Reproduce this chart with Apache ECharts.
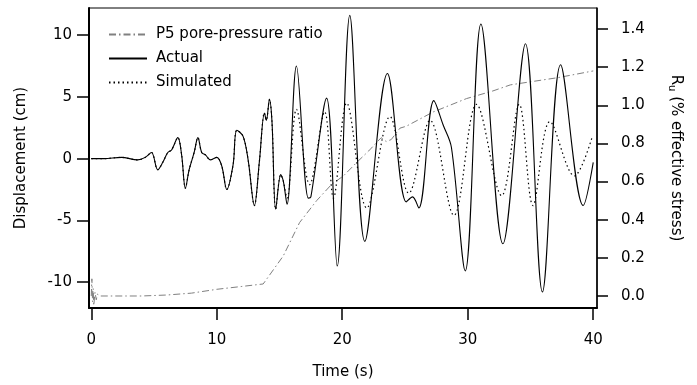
<!DOCTYPE html>
<html><head><meta charset="utf-8">
<script src="https://cdn.jsdelivr.net/npm/echarts@6/dist/echarts.min.js"></script>
<style>html,body{margin:0;padding:0;background:#fff}#c{width:697px;height:385px}</style>
</head><body><div id="c"></div>
<script>
// ---- data ----
const actualT = [0,1,2.4,3.7,4.3,4.8,5.3,5.7,6.1,6.4,6.9,7.2,7.5,7.8,8.2,8.5,8.8,9.1,9.5,10.0,10.4,10.8,11.3,11.6,12.1,12.5,13.0,13.4,13.8,13.95,14.2,14.4,14.7,15.1,15.3,15.6,16.35,17.3,17.5,18.75,19.6,20.6,21.8,23.6,25.1,25.6,26.1,27.3,28.05,28.7,29.8,31.05,32.8,34.6,35.95,37.4,39.2,40.0];
const actualD = [0,0,0.1,-0.1,0.1,0.5,-0.9,-0.3,0.5,0.7,1.7,0.3,-2.4,-0.9,0.5,1.7,0.5,0.3,-0.1,0.1,-0.6,-2.5,-0.5,2.3,1.8,-0.1,-3.8,-0.2,3.7,3.1,4.8,3.0,-4.1,-1.3,-1.8,-3.7,7.5,-3.2,-3.1,4.9,-8.7,11.6,-6.7,6.9,-3.5,-3.1,-4.0,4.7,2.7,0.9,-9.1,10.9,-6.9,9.3,-10.8,7.6,-3.8,-0.3];
const simT = [0,1,2.4,3.7,4.3,4.8,5.3,5.7,6.1,6.4,6.9,7.2,7.5,7.8,8.2,8.5,8.8,9.1,9.5,10.0,10.4,10.8,11.3,11.6,12.1,12.5,13.0,13.4,13.8,13.95,14.2,14.4,14.7,15.1,15.3,15.6,16.35,17.4,18.6,19.3,20.35,21.95,23.8,25.3,27.0,28.9,30.7,32.7,34.1,35.2,36.55,38.5,39.9];
const simD = [0,0,0.1,-0.1,0.1,0.5,-0.9,-0.3,0.5,0.7,1.7,0.3,-2.4,-0.9,0.5,1.7,0.5,0.3,-0.1,0.1,-0.6,-2.5,-0.5,2.3,1.8,-0.1,-3.8,-0.2,3.7,3.1,4.8,3.0,-4.1,-1.3,-1.8,-3.2,4.0,-2.1,3.8,-3.2,4.5,-4.0,3.4,-2.8,3.1,-4.6,4.4,-3.0,4.4,-3.8,3.0,-1.4,1.7];
const ruT = [0,0.05,0.1,0.15,0.2,0.3,0.4,0.5,0.7,1.5,4,6,8,10,12,13.7,15.3,16.6,17.96,19.15,20.1,21.15,22.1,23.1,23.5,23.9,24.6,25.1,27.25,29.9,32.0,33.4,34.2,37.2,40.0];
const ruR = [0.0,0.09,-0.03,0.04,-0.05,0.02,-0.02,0.01,0.0,0.0,0.0,0.005,0.015,0.035,0.05,0.063,0.21,0.385,0.50,0.585,0.63,0.70,0.76,0.83,0.81,0.82,0.88,0.89,0.965,1.035,1.075,1.107,1.115,1.145,1.18];
const xTicks = [0,10,20,30,40];
const dispTicks = [-10,-5,0,5,10];
const ruTicks = [0,0.2,0.4,0.6,0.8,1.0,1.2,1.4];
const seriesNames = ['P5 pore-pressure ratio','Actual','Simulated'];

const pair = (a,b) => a.map((v,i)=>[v,b[i]]);
const FONT = 'DejaVu Sans';
const chart = echarts.init(document.getElementById('c'));
chart.setOption({
  animation:false,
  backgroundColor:'#fff',
  grid:{left:89,right:100,top:8,bottom:76,show:true,borderColor:'#000',borderWidth:1,backgroundColor:'transparent'},
  legend:{
    orient:'vertical',left:103,top:22,itemWidth:38,itemHeight:14,itemGap:9,
    itemStyle:{opacity:0},
    textStyle:{fontFamily:FONT,fontSize:15,color:'#000',padding:[0,0,0,4]},
    data:seriesNames
  },
  xAxis:{
    type:'value',min:-0.18,max:40.3,
    name:'Time (s)',nameLocation:'middle',nameGap:57,
    nameTextStyle:{fontFamily:FONT,fontSize:15,color:'#000'},
    axisLine:{onZero:false,lineStyle:{color:'#000',width:2}},
    axisTick:{show:true,length:12,customValues:xTicks,lineStyle:{width:1.5,color:'#000'}},
    axisLabel:{customValues:xTicks,margin:25,fontFamily:FONT,fontSize:15,color:'#000'},
    splitLine:{show:false}
  },
  yAxis:[{
    type:'value',min:-12.1,max:12.2,position:'left',
    name:'Displacement (cm)',nameLocation:'middle',nameGap:60,
    nameTextStyle:{fontFamily:FONT,fontSize:15,color:'#000'},
    axisLine:{show:true,onZero:false,lineStyle:{color:'#000',width:2}},
    axisTick:{show:true,length:12,customValues:dispTicks,lineStyle:{width:1.5,color:'#000'}},
    axisLabel:{customValues:dispTicks,margin:17,fontFamily:FONT,fontSize:15,color:'#000'},
    splitLine:{show:false}
  },{
    type:'value',min:-0.063,max:1.51,position:'right',
    name:'{r|R}{s|u}{r| (% effective stress)}',nameLocation:'middle',nameGap:70,nameRotate:-90,
    nameTextStyle:{fontFamily:FONT,fontSize:15,color:'#000',rich:{r:{fontFamily:FONT,fontSize:15,color:'#000'},s:{fontFamily:FONT,fontSize:10,color:'#000',verticalAlign:'bottom',padding:[8,0,0,0]}}},
    axisLine:{show:true,onZero:false,lineStyle:{color:'#000',width:1.5}},
    axisTick:{show:true,length:11,customValues:ruTicks,lineStyle:{width:1.5,color:'#000'}},
    axisLabel:{customValues:ruTicks,margin:24,fontFamily:FONT,fontSize:15,color:'#000',formatter:v=>v.toFixed(1)},
    splitLine:{show:false}
  }],
  series:[{
    name:seriesNames[0],type:'line',yAxisIndex:1,data:pair(ruT,ruR),showSymbol:false,symbol:'none',
    lineStyle:{color:'#808080',width:1,type:[7,3,1.5,3]},itemStyle:{color:'#808080'}
  },{
    name:seriesNames[1],type:'line',yAxisIndex:0,data:pair(actualT,actualD),showSymbol:false,symbol:'none',smooth:0.35,
    lineStyle:{color:'#000',width:1.1,type:'solid'},itemStyle:{color:'#000'}
  },{
    name:seriesNames[2],type:'line',yAxisIndex:0,data:pair(simT,simD),showSymbol:false,symbol:'none',smooth:0.35,
    lineStyle:{color:'#000',width:1.2,type:[1.5,3]},itemStyle:{color:'#000'}
  }]
});
</script></body></html>
